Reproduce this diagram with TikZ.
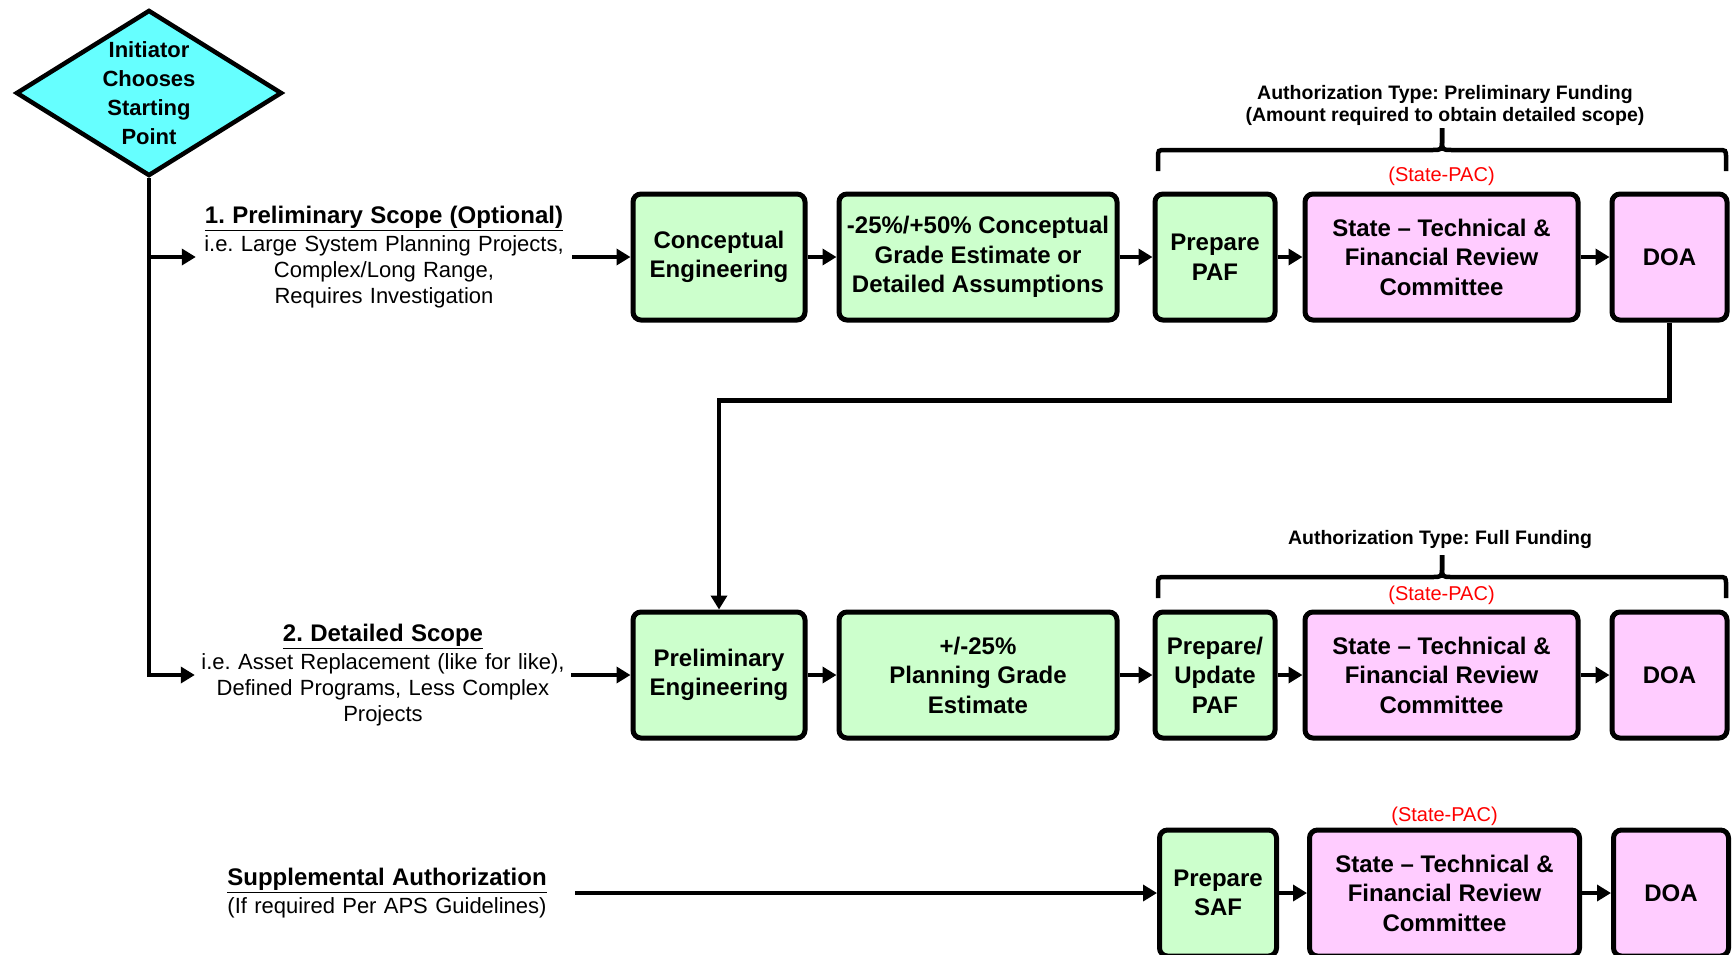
\documentclass[tikz,border=0pt]{standalone}
\usepackage{fontspec}
\setmainfont{Liberation Sans}
\usetikzlibrary{arrows.meta, calc, positioning, shapes.geometric}
\definecolor{startcyan}{HTML}{66FFFF}
\definecolor{stepgreen}{HTML}{CCFFCC}
\definecolor{reviewpink}{HTML}{FFCCFF}
\tikzset{
  box/.style = {draw, line width=5pt, rounded corners=8pt, minimum height=126pt, align=center, inner sep=2pt, font=\fontsize{24}{29.5}\selectfont\bfseries},
  greenbox/.style = {box, fill=stepgreen},
  pinkbox/.style = {box, fill=reviewpink},
  flow/.style = {line width=4.5pt, -{Triangle[length=14pt, width=16pt]}},
  bracketline/.style = {line width=4.5pt},
  note/.style = {align=center, text width=370pt, inner xsep=3pt, font=\fontsize{22}{26}\selectfont},
  pac/.style = {text=red, inner sep=0pt, font=\fontsize{20}{24}\selectfont},
  fund/.style = {align=center, font=\fontsize{19.5}{22}\selectfont\bfseries}
}

\begin{document}
\frenchspacing
\begin{tikzpicture}[x=1pt, y=-1pt]
  \useasboundingbox (0,0) rectangle (1732,954);

  % where the initiator starts
  \node[diamond, draw, line width=4.5pt, fill=startcyan, minimum width=266pt, minimum height=166pt, inner sep=0pt] (start) at (149,93) {};
  \node[align=center, font=\fontsize{22}{29}\selectfont\bfseries] (starttext) at (start.center) {Initiator\\Chooses\\Starting\\Point};

  \node[note] (scope) at (384,257) {{\bfseries\fontsize{24}{29}\selectfont\underline{1. Preliminary Scope (Optional)}}\\[2pt] i.e. Large System Planning Projects,\\ Complex/Long Range,\\ Requires Investigation};
  \node[note] (detail) at (383,675) {{\bfseries\fontsize{24}{29}\selectfont\underline{2. Detailed Scope}}\\[2pt] i.e. Asset Replacement (like for like),\\ Defined Programs, Less Complex\\ Projects};
  \node[note] (supp) at (387,893) {{\bfseries\fontsize{24}{29}\selectfont\underline{Supplemental Authorization}}\\[2pt] (If required Per APS Guidelines)};

  % preliminary funding
  \node[greenbox, minimum width=172pt] (concept) at (719,257) {Conceptual\\Engineering};
  \node[greenbox, minimum width=278pt, right=29pt of concept] (cge) {-25\%/+50\% Conceptual\\Grade Estimate or\\Detailed Assumptions};
  \node[greenbox, minimum width=120pt, right=33pt of cge] (paf1) {Prepare\\PAF};
  \node[pinkbox, minimum width=273pt, right=25pt of paf1] (review1) {State -- Technical \&\\Financial Review\\Committee};
  \node[pinkbox, minimum width=115pt, right=29pt of review1] (doa1) {DOA};

  % full funding
  \node[greenbox, minimum width=172pt] (prelim) at (719,675) {Preliminary\\Engineering};
  \node[greenbox, minimum width=278pt, right=29pt of prelim] (pge) {+/-25\%\\Planning Grade\\Estimate};
  \node[greenbox, minimum width=120pt, right=33pt of pge] (paf2) {Prepare/\\Update\\PAF};
  \node[pinkbox, minimum width=273pt, right=25pt of paf2] (review2) {State -- Technical \&\\Financial Review\\Committee};
  \node[pinkbox, minimum width=115pt, right=29pt of review2] (doa2) {DOA};

  % supplemental
  \node[greenbox, minimum width=117pt] (saf) at (1218,893) {Prepare\\SAF};
  \node[pinkbox, minimum width=270pt, right=28pt of saf] (review3) {State -- Technical \&\\Financial Review\\Committee};
  \node[pinkbox, minimum width=115pt, right=29pt of review3] (doa3) {DOA};

  \node[pac, above=6pt of review1] (pac1) {(State-PAC)};
  \node[pac, above=5pt of review2] (pac2) {(State-PAC)};
  \node[pac, above=2pt of review3] (pac3) {(State-PAC)};

  \node[fund] (fund1) at (1445,105) {Authorization Type: Preliminary Funding\\(Amount required to obtain detailed scope)};
  \node[fund] (fund2) at (1440,539) {Authorization Type: Full Funding};

  % braces over the authorization steps
  \foreach \t in {150,577} {
    \draw[bracketline] (1158,\t+21) -- (1158,\t+8) .. controls (1158,\t) .. (1166,\t) -- (1432,\t) .. controls (1442,\t) .. (1442,\t-10) -- (1442,\t-22);
    \draw[bracketline] (1726,\t+21) -- (1726,\t+8) .. controls (1726,\t) .. (1718,\t) -- (1452,\t) .. controls (1442,\t) .. (1442,\t-10) -- (1442,\t-22);
  }

  \draw[flow] (start.south) |- (detail.west);
  \draw[flow] (start.south |- scope.west) -- (scope.west);
  \draw[flow] (scope.east) -- (concept.west);
  \draw[flow] (detail.east) -- (prelim.west);
  \draw[flow] (supp.east) -- (saf.west);
  \foreach \a/\b in {concept/cge, cge/paf1, paf1/review1, review1/doa1, prelim/pge, pge/paf2, paf2/review2, review2/doa2, saf/review3, review3/doa3}
    \draw[flow] (\a) -- (\b);
  \draw[flow] (doa1.south) -- ++(0,78) -| (prelim.north);
\end{tikzpicture}
\end{document}
